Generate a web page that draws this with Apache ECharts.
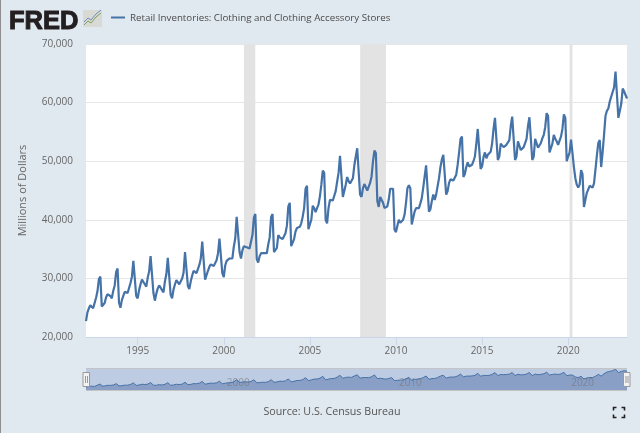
<!DOCTYPE html>
<html>
<head>
<meta charset="utf-8">
<style>html,body{margin:0;padding:0;background:#E1E9F0}#c{width:640px;height:433px}</style>
<script src="https://cdn.jsdelivr.net/npm/echarts@6/dist/echarts.min.js"></script>
</head>
<body>
<div id="c"></div>
<script>
var seriesName = 'Retail Inventories: Clothing and Clothing Accessory Stores';
var yAxisTitle = 'Millions of Dollars';
var sourceText = 'Source: U.S. Census Bureau';
var firstYear = 1992;
var monthlyValues = [
22700,24200,24900,25400,25100,24900,24600,26700,27800,29900,30300,25200,
24900,25800,26800,27300,27300,27000,26600,27900,28800,31100,31700,25900,
25000,26300,27000,27700,27900,27500,27500,29200,30300,33000,33200,27000,
26600,28000,29000,29800,29500,29000,28600,30100,31200,33800,33900,27500,
26200,27400,28300,28800,28500,28000,27600,29500,30700,33500,33700,27200,
26600,28100,29000,29700,29400,29000,28900,30000,31000,34500,34700,28700,
28200,29500,30500,31300,31200,30900,30800,32300,33400,36300,36300,29800,
29800,31300,32000,32400,32300,32100,32000,33100,34300,36800,37100,30900,
30200,32200,33000,33300,33400,33400,33400,35400,36800,40500,40700,34500,
33400,34800,35500,35700,35300,35000,35100,36300,37400,40400,41000,33300,
32700,33800,34300,34500,34300,34200,34300,35800,37000,40500,41000,34500,
34300,35200,37400,37000,37000,36700,36700,37700,39000,42300,42900,35500,
35500,36700,38000,38600,38700,38800,39400,40500,42000,45300,45800,38400,
38600,40000,42400,42000,41300,42000,42600,44000,46000,48400,48000,40000,
39400,42000,43400,43300,43300,43500,44900,46500,48000,50900,51100,43900,
43900,46000,47300,46600,46200,46000,47100,49300,50800,52200,52000,44300,
43900,45400,46100,45800,45000,45300,46300,47400,50000,51800,51400,43200,
42200,43900,44000,42900,42000,41800,42300,43500,45300,45400,45300,38300,
37900,39000,40000,39500,39700,40000,40900,42900,45400,45900,45400,39200,
39500,41400,42000,41700,42000,42800,43700,45500,47400,49300,49100,41400,
41800,43200,44300,43400,44300,45700,47100,49000,50300,51100,51100,44300,
44900,46300,46900,46900,46700,47000,47700,49400,51500,53800,54200,47300,
47800,49000,49800,49100,48800,49400,50000,50800,53000,55500,55200,48700,
49100,50700,51500,50500,51100,50800,51600,53000,55500,57400,57200,50200,
50800,53000,53200,52400,52100,52800,53100,53600,56000,57600,57800,50200,
50800,53400,53500,51900,52100,52400,53100,53800,56000,57500,57200,50200,
50800,53800,53800,52300,52600,53100,53900,54500,55800,58200,57700,51500,
51500,53000,54500,53800,53400,52800,53500,54200,55500,58000,57400,50000,
50800,51500,53700,51400,49000,47100,46000,45500,46000,48500,47800,42200,
43400,44600,45200,45800,45700,45500,46200,48500,51000,53100,53600,49000,
51500,54500,57700,58600,59000,60200,60300,61800,62600,65300,65000,57400,
57600,59800,62400,61900,61300,60700
];
var yTicks = [20000, 70000, 10000];
var xTickYears = [1995, 2000, 2005, 2010, 2015, 2020];
var navLabelYears = [2000, 2010, 2020];
var recessionStarts = [2001.17, 2007.92, 2020.08];
var recessionEnds = [2001.83, 2009.42, 2020.25];

var points = monthlyValues.map(function (v, i) { return [firstYear + i / 12, v]; });
var lastX = firstYear + (monthlyValues.length - 1) / 12;
var textFont = '"Open Sans"';

var chart = echarts.init(document.getElementById('c'), null, {renderer: 'canvas'});
chart.setOption({
  animation: false,
  backgroundColor: '#E1E9F0',
  grid: [
    {left: 86, top: 44, width: 541, height: 293, show: true, backgroundColor: '#FFFFFF', borderWidth: 0},
    {left: 86, top: 368.5, width: 541, height: 22, show: true, backgroundColor: '#BDCBE3', borderWidth: 0}
  ],
  xAxis: [
    {type: 'value', gridIndex: 0, min: firstYear, max: lastX,
      splitLine: {show: false},
      axisLine: {show: true, lineStyle: {color: '#CCD6EB', width: 1}},
      axisTick: {show: true, customValues: xTickYears, length: 8, lineStyle: {color: '#CCD6EB'}},
      axisLabel: {customValues: xTickYears, color: '#666666', fontSize: 10, fontFamily: textFont, margin: 9,
        formatter: function (v) { return String(v); }}
    },
    {type: 'value', gridIndex: 1, min: firstYear, max: lastX, z: 6,
      splitLine: {show: false},
      axisLine: {show: false},
      axisTick: {show: false},
      axisLabel: {customValues: navLabelYears, inside: true, color: 'rgba(110,110,110,0.55)', fontSize: 10,
        fontFamily: textFont, align: 'left', margin: 2, padding: [0, 0, 0, 3],
        formatter: function (v) { return String(v); }}
    }
  ],
  yAxis: [
    {type: 'value', gridIndex: 0, min: yTicks[0], max: yTicks[1], interval: yTicks[2],
      name: yAxisTitle, nameLocation: 'middle', nameGap: 58, nameRotate: 90,
      nameTextStyle: {color: '#666666', fontSize: 11, fontFamily: textFont},
      axisLine: {show: false}, axisTick: {show: false},
      splitLine: {show: true, lineStyle: {color: '#E6E6E6', width: 1}},
      axisLabel: {color: '#666666', fontSize: 10, fontFamily: textFont, margin: 13}
    },
    {type: 'value', gridIndex: 1, min: 15000, max: 67000,
      axisLine: {show: false}, axisTick: {show: false}, splitLine: {show: false}, axisLabel: {show: false}
    }
  ],
  series: [
    {type: 'line', name: seriesName, xAxisIndex: 0, yAxisIndex: 0, data: points, showSymbol: false, z: 3,
      lineStyle: {color: '#4572A7', width: 2.2}, itemStyle: {color: '#4572A7'},
      markArea: {silent: true, itemStyle: {color: '#E3E3E3'},
        data: recessionStarts.map(function (s, i) { return [{xAxis: s}, {xAxis: recessionEnds[i]}]; })}
    },
    {type: 'line', xAxisIndex: 1, yAxisIndex: 1, data: points, showSymbol: false, z: 3,
      lineStyle: {color: '#4572A7', width: 1}, areaStyle: {color: '#8A9FC6', opacity: 1}
    }
  ],
  graphic: [
    // page edge
    {type: 'rect', shape: {x: 0, y: 0, width: 1, height: 433}, style: {fill: '#8E8E8E'}},
    // logo
    {type: 'text', x: 9, y: 8.5, style: {text: 'FRED', fill: '#231F20', stroke: '#231F20', lineWidth: 1,
      font: 'bold 25.5px "Liberation Sans"'}},
    {type: 'rect', shape: {x: 83, y: 10, width: 19, height: 17}, style: {fill: '#D9D9D6'}},
    {type: 'polyline', shape: {points: [[84, 25], [88, 21], [91, 23], [96, 17], [101, 13]]},
      style: {stroke: '#7CA05A', lineWidth: 1, fill: null}},
    {type: 'polyline', shape: {points: [[84, 22], [88, 18], [91, 20], [96, 14], [101, 10]]},
      style: {stroke: '#6F8FB8', lineWidth: 1, fill: null}},
    // legend
    {type: 'line', shape: {x1: 111, y1: 17.5, x2: 125, y2: 17.5}, style: {stroke: '#4572A7', lineWidth: 2}},
    {type: 'text', x: 130, y: 18, style: {text: seriesName, fill: '#4A4A4A', font: '9.75px ' + textFont, verticalAlign: 'middle'}},
    // navigator frame
    {type: 'line', shape: {x1: 86, y1: 368.5, x2: 627, y2: 368.5}, style: {stroke: '#C4C4C4', lineWidth: 1}, z: 8},
    {type: 'line', shape: {x1: 86, y1: 390.5, x2: 627, y2: 390.5}, style: {stroke: '#C4C4C4', lineWidth: 1}, z: 8},
    // navigator handles
    {type: 'rect', shape: {x: 83, y: 372.5, width: 6.5, height: 14}, style: {fill: '#F2F2F2', stroke: '#999999', lineWidth: 1}, z: 9},
    {type: 'line', shape: {x1: 85.5, y1: 376, x2: 85.5, y2: 383}, style: {stroke: '#999999', lineWidth: 1}, z: 10},
    {type: 'line', shape: {x1: 87.5, y1: 376, x2: 87.5, y2: 383}, style: {stroke: '#999999', lineWidth: 1}, z: 10},
    {type: 'rect', shape: {x: 623.5, y: 372.5, width: 6.5, height: 14}, style: {fill: '#F2F2F2', stroke: '#999999', lineWidth: 1}, z: 9},
    {type: 'line', shape: {x1: 626, y1: 376, x2: 626, y2: 383}, style: {stroke: '#999999', lineWidth: 1}, z: 10},
    {type: 'line', shape: {x1: 628, y1: 376, x2: 628, y2: 383}, style: {stroke: '#999999', lineWidth: 1}, z: 10},
    // source
    {type: 'text', x: 332, y: 412, style: {text: sourceText, fill: '#555555', font: '10.7px ' + textFont, align: 'center', verticalAlign: 'middle'}},
    // fullscreen icon
    {type: 'polyline', shape: {points: [[613.5, 410.5], [613.5, 407.5], [616.5, 407.5]]}, style: {stroke: '#222222', lineWidth: 1.6, fill: null}},
    {type: 'polyline', shape: {points: [[621.5, 407.5], [624.5, 407.5], [624.5, 410.5]]}, style: {stroke: '#222222', lineWidth: 1.6, fill: null}},
    {type: 'polyline', shape: {points: [[613.5, 414.5], [613.5, 417.5], [616.5, 417.5]]}, style: {stroke: '#222222', lineWidth: 1.6, fill: null}},
    {type: 'polyline', shape: {points: [[621.5, 417.5], [624.5, 417.5], [624.5, 414.5]]}, style: {stroke: '#222222', lineWidth: 1.6, fill: null}}
  ]
});
</script>
</body>
</html>
